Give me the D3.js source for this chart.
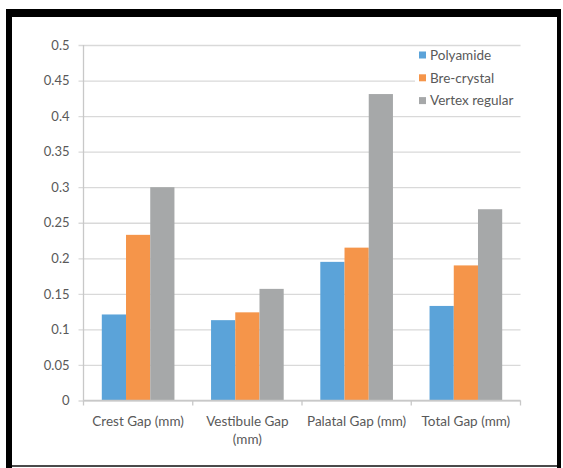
<!DOCTYPE html>
<html><head><meta charset="utf-8">
<script src="https://cdn.jsdelivr.net/npm/d3@7"></script>
<style>html,body{margin:0;padding:0;background:#fff;}svg{display:block;}</style>
</head><body>
<svg id="chart" width="563" height="468"></svg>
<script>
const categories = ["Crest Gap (mm)", "Vestibule Gap (mm)", "Palatal Gap (mm)", "Total Gap (mm)"];
const categoryLines = [["Crest Gap (mm)"], ["Vestibule Gap", "(mm)"], ["Palatal Gap (mm)"], ["Total Gap (mm)"]];
const seriesNames = ["Polyamide", "Bre-crystal", "Vertex regular"];
const polyamide = [0.121, 0.113, 0.195, 0.133];
const breCrystal = [0.233, 0.124, 0.215, 0.190];
const vertexRegular = [0.300, 0.157, 0.431, 0.269];
const yTicks = [0, 0.05, 0.1, 0.15, 0.2, 0.25, 0.3, 0.35, 0.4, 0.45, 0.5];
const colors = ["#5ba3d9", "#f5954a", "#a6a8a9"];

const seriesValues = [polyamide, breCrystal, vertexRegular];
const svg = d3.select("#chart");
const font = "Lato, 'Open Sans', sans-serif";
const textColor = "#595959";

const x0 = 83.5, x1 = 520.5, yTop = 45, yBot = 400.5;
const y = d3.scaleLinear().domain([0, 0.5]).range([yBot, yTop]);
const xBand = d3.scaleBand().domain(categories).range([x0, x1]).paddingInner(0.335).paddingOuter(0.1675);
const xSub = d3.scaleBand().domain(seriesNames).range([0, xBand.bandwidth()]);

// frame
svg.append("rect").attr("x", 6).attr("y", 9).attr("width", 555).attr("height", 8).attr("fill", "#000");
svg.append("rect").attr("x", 6).attr("y", 9).attr("width", 6).attr("height", 459).attr("fill", "#000");
svg.append("rect").attr("x", 557).attr("y", 9).attr("width", 4).attr("height", 459).attr("fill", "#000");
svg.append("rect").attr("x", 12).attr("y", 465).attr("width", 545).attr("height", 2).attr("fill", "#4a4a4a");

// gridlines + y axis ticks
const yAxis = d3.axisLeft(y).tickValues(yTicks).tickSize(-(x1 - x0) - 5).tickPadding(9)
  .tickFormat(d => d === 0 ? "0" : String(+d.toFixed(2)));
const gy = svg.append("g").attr("transform", `translate(${x1},0)`)
  .call(d3.axisLeft(y).tickValues(yTicks).tickSize(x1 - x0 + 5).tickFormat(""));
gy.select(".domain").remove();
gy.selectAll(".tick line").attr("stroke", "#d9d9d9").attr("stroke-width", 1.3);

const gyl = svg.append("g").attr("transform", `translate(${x0},0)`)
  .call(d3.axisLeft(y).tickValues(yTicks).tickSize(0).tickPadding(14)
    .tickFormat(d => d === 0 ? "0" : String(+d.toFixed(2))));
gyl.select(".domain").remove();
gyl.selectAll("text").attr("fill", textColor).style("font-family", font).style("font-size", "13px");

// y axis line
svg.append("line").attr("x1", x0).attr("x2", x0).attr("y1", yTop).attr("y2", yBot)
  .attr("stroke", "#c8c8c8").attr("stroke-width", 1.3);

// bars
const groups = svg.append("g").selectAll("g").data(categories).join("g")
  .attr("transform", d => `translate(${xBand(d)},0)`);
groups.selectAll("rect").data((d, i) => seriesNames.map((s, j) => ({s, v: seriesValues[j][i], j})))
  .join("rect")
  .attr("x", d => xSub(d.s)).attr("width", xSub.bandwidth())
  .attr("y", d => y(d.v)).attr("height", d => yBot - y(d.v))
  .attr("fill", d => colors[d.j]);

// x axis
const xEdges = d3.range(categories.length + 1).map(i => x0 + i * xBand.step());
svg.append("line").attr("x1", x0).attr("x2", x1).attr("y1", yBot).attr("y2", yBot)
  .attr("stroke", "#c8c8c8").attr("stroke-width", 1.3);
svg.append("g").selectAll("line").data(xEdges).join("line")
  .attr("x1", d => d).attr("x2", d => d).attr("y1", yBot).attr("y2", yBot + 5)
  .attr("stroke", "#c8c8c8").attr("stroke-width", 1.3);

const xl = svg.append("g").selectAll("text").data(categories).join("text")
  .attr("x", d => xBand(d) + xBand.bandwidth() / 2)
  .attr("y", 426)
  .attr("text-anchor", "middle").attr("fill", textColor)
  .style("font-family", font).style("font-size", "13.5px");
xl.each(function(d, i) {
  d3.select(this).selectAll("tspan").data(categoryLines[i]).join("tspan")
    .attr("x", xBand(d) + xBand.bandwidth() / 2)
    .attr("dy", (t, k) => k === 0 ? 0 : 18)
    .text(t => t);
});

// legend
svg.append("rect").attr("x", 415).attr("y", 48).attr("width", 108).attr("height", 64).attr("fill", "#fff");
const lg = svg.append("g").selectAll("g").data(seriesNames).join("g")
  .attr("transform", (d, i) => `translate(419,${55 + i * 22.8})`);
lg.append("rect").attr("x", 0).attr("y", -3.5).attr("width", 7).attr("height", 7).attr("fill", (d, i) => colors[i]);
lg.append("text").attr("x", 11).attr("y", 0).attr("dy", "0.35em").attr("fill", textColor)
  .style("font-family", font).style("font-size", "13.5px").text(d => d);
</script>
</body></html>
